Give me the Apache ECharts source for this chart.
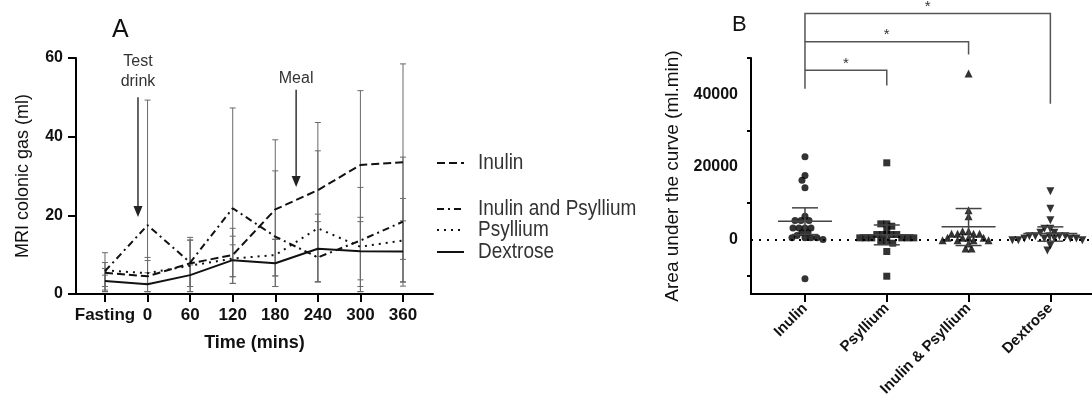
<!DOCTYPE html>
<html><head><meta charset="utf-8">
<script src="https://cdn.jsdelivr.net/npm/echarts@6/dist/echarts.min.js"></script>
<style>html,body{margin:0;padding:0;background:#fff}#c{width:1092px;height:410px}</style>
</head><body><div id="c"></div>
<script>
// ---------- Panel A data ----------
const timeLabels = ['Fasting','0','60','120','180','240','300','360'];
const seriesNames = ['Inulin','Inulin and Psyllium','Psyllium','Dextrose'];
const inulinMean = [5.4, 4.5, 7.8, 9.9, 21.5, 26.4, 32.8, 33.5];
const inulinLow  = [1.9, 0.6, 1.9, 4.4, 4.6, 9.5, 3.6, 8.8];
const inulinHigh = [6.5, 9.3, 13.7, 16.7, 39.2, 43.6, 51.7, 58.5];
const iapMean = [5.8, 17.5, 8.0, 21.8, 14.6, 9.3, 13.6, 18.4];
const iapLow  = [0.6, 0.6, 0.6, 2.7, 1.9, 3.1, 0.6, 2.0];
const iapHigh = [10.5, 49.3, 14.4, 47.3, 31.3, 36.4, 27.1, 34.8];
const psylMean = [6.0, 5.3, 7.2, 9.0, 9.9, 16.7, 12.0, 13.6];
const psylLow  = [1.0, 2.7, 1.9, 4.4, 4.6, 3.1, 1.9, 3.1];
const psylHigh = [8.0, 8.5, 13.7, 14.7, 13.9, 20.3, 19.5, 24.3];
const dexMean = [3.3, 2.5, 4.8, 8.6, 7.8, 11.5, 10.9, 10.8];
const dexLow  = [0.6, 0.6, 0.6, 2.7, 1.9, 3.1, 0.6, 3.0];
const dexHigh = [4.8, 5.4, 7.4, 12.5, 13.9, 18.4, 18.4, 18.6];
const yTicksA = [0, 20, 40, 60];
const annoLabels = ['Test\ndrink', 'Meal'];
const annoX = [0.775, 4.49];
const annoTop = [50, 51.9];
const annoTip = [19.6, 27.2];

// ---------- Panel B data ----------
const groupLabels = ['Inulin','Psyllium','Inulin & Psyllium','Dextrose'];
const aucInulin = [22780, 17630, 16340, 14240, 6430, 5230, 5230, 5230, 3210, 3210, 3210, 3210, 1840, 1840, 1100, 460, 460, 460, 460, 0, -10830];
const aucPsyllium = [21130, 4320, 4320, 3670, 2480, 1380, 1380, 1380, 1380, 460, 460, 460, 460, 460, 460, -460, -460, -1000, -3300, -10100];
const aucInulinPsyllium = [45730, 8080, 6430, 2290, 2290, 1560, 1560, 1560, 1560, 460, 460, 460, 460, -190, -190, -190, -190, -1100, -2480, -2480];
const aucDextrose = [13310, 8460, 5320, 2940, 2940, 1840, 1840, 920, 920, 920, 920, 920, 280, 280, 280, 280, 280, -190, -190, -190, -1650, -3030];
const aucMean = [5050, 1300, 3490, 1650];
const aucLow  = [1370, -1450, -1650, -460];
const aucHigh = [8730, 4000, 8540, 3490];
const sigFrom = [0, 0, 0];
const sigTo = [1, 2, 3];
const sigLeftBottom = [41500, 46650, 54470];
const sigTop = [46650, 54470, 62260];
const sigRightBottom = [42400, 50970, 37380];
const sigMarks = ['*', '*', '*'];
const yTicksBMajor = [0, 20000, 40000];
const yTicksBMinor = [-10000, 10000, 30000, 50000];

// ---------- styles ----------
const FONT = 'Arial, "Liberation Sans", Helvetica, sans-serif';
const lineTypes = [[8,4],[7,4,2,4],[2,5],'solid'];
const meansA = [inulinMean, iapMean, psylMean, dexMean];
const lowsA = [inulinLow, iapLow, psylLow, dexLow];
const highsA = [inulinHigh, iapHigh, psylHigh, dexHigh];
const aucGroups = [aucInulin, aucPsyllium, aucInulinPsyllium, aucDextrose];
const symbolsB = ['circle','rect','triangle','triangle'];
const rotB = [0, 0, 0, 180];
const sizeB = [7, 7, 8, 8];
const legendY = [163, 209, 230, 252];

const chart = echarts.init(document.getElementById('c'));

function errBarA(params, api) {
  const x = api.value(0), lo = api.value(1), hi = api.value(2);
  const t = api.coord([x, hi]), b = api.coord([x, lo]);
  const w = 3, st = {stroke:'#6a6a6a', lineWidth:1};
  return {type:'group', children:[
    {type:'line', shape:{x1:t[0],y1:t[1],x2:b[0],y2:b[1]}, style:st},
    {type:'line', shape:{x1:t[0]-w,y1:t[1],x2:t[0]+w,y2:t[1]}, style:st},
    {type:'line', shape:{x1:b[0]-w,y1:b[1],x2:b[0]+w,y2:b[1]}, style:st}
  ]};
}
function annoRender(params, api) {
  const i = params.dataIndex;
  const x = api.value(0), top = api.coord([x, api.value(1)]), tip = api.coord([x, api.value(2)]);
  const hh = 11, hw = 4.5, st = {stroke:'#333', lineWidth:1.5};
  return {type:'group', children:[
    {type:'line', shape:{x1:top[0],y1:top[1],x2:tip[0],y2:tip[1]-hh+1}, style:st},
    {type:'polygon', shape:{points:[[tip[0]-hw,tip[1]-hh],[tip[0]+hw,tip[1]-hh],[tip[0],tip[1]]]}, style:{fill:'#222'}},
    {type:'text', x: top[0], y: top[1] - (i === 0 ? 6 : 1), style:{text: annoLabels[i], align:'center', verticalAlign:'bottom', font:'16px '+FONT, fill:'#333', lineHeight:20}}
  ]};
}
function meanRenderB(params, api) {
  const x = api.value(0);
  const m = api.coord([x, api.value(1)]), lo = api.coord([x, api.value(2)]), hi = api.coord([x, api.value(3)]);
  const st = {stroke:'#444', lineWidth:1.5};
  const mw = 27, cw = 13;
  return {type:'group', children:[
    {type:'line', shape:{x1:m[0]-mw,y1:m[1],x2:m[0]+mw,y2:m[1]}, style:st},
    {type:'line', shape:{x1:hi[0],y1:hi[1],x2:lo[0],y2:lo[1]}, style:st},
    {type:'line', shape:{x1:hi[0]-cw,y1:hi[1],x2:hi[0]+cw,y2:hi[1]}, style:st},
    {type:'line', shape:{x1:lo[0]-cw,y1:lo[1],x2:lo[0]+cw,y2:lo[1]}, style:st}
  ]};
}
function bracketRender(params, api) {
  const i = params.dataIndex;
  const x1 = api.value(0), x2 = api.value(1);
  const lb = api.coord([x1, api.value(2)]), lt = api.coord([x1, api.value(3)]);
  const rt = api.coord([x2, api.value(3)]), rb = api.coord([x2, api.value(4)]);
  return {type:'group', children:[
    {type:'polyline', shape:{points:[lb, lt, rt, rb]}, style:{stroke:'#555', lineWidth:1.5, fill:null}},
    {type:'text', x:(lt[0]+rt[0])/2, y:lt[1]+1, style:{text:sigMarks[i], align:'center', verticalAlign:'bottom', font:'15px '+FONT, fill:'#333'}}
  ]};
}

const series = [];
seriesNames.forEach((name, i) => {
  series.push({id:'errA'+i, type:'custom', name: name+' SD', xAxisIndex:0, yAxisIndex:0, renderItem: errBarA, z:2,
    data: timeLabels.map((_, k) => [k, lowsA[i][k], highsA[i][k]]), silent:true});
});
seriesNames.forEach((name, i) => {
  series.push({id:'lineA'+i, type:'line', name, xAxisIndex:0, yAxisIndex:0, symbol:'none', z:3,
    lineStyle:{color:'#111', width:2, type: lineTypes[i]},
    data: meansA[i].map((v, k) => [k, v])});
});
series.push({id:'anno', type:'custom', name:'annotations', xAxisIndex:0, yAxisIndex:0, clip:false, renderItem: annoRender, z:4,
  data: annoLabels.map((_, i) => [annoX[i], annoTop[i], annoTip[i]])});
groupLabels.forEach((name, i) => {
  const s = {id:'dotB'+i, type:'scatter', name: 'AUC ' + name, xAxisIndex:1, yAxisIndex:1, symbol: symbolsB[i], symbolRotate: rotB[i],
    symbolSize: sizeB[i], itemStyle:{color:'#000'}, z:3, data: aucGroups[i].map(v => [i, v])};
  if (i === 0) s.markLine = {silent:true, symbol:'none', label:{show:false},
    lineStyle:{color:'#000', width:2, type:[2,6]}, data:[{yAxis:0}]};
  series.push(s);
});
series.push({id:'meanB', type:'custom', name:'mean', xAxisIndex:1, yAxisIndex:1, renderItem: meanRenderB, z:4,
  data: aucMean.map((m, i) => [i, m, aucLow[i], aucHigh[i]])});
series.push({id:'sigB', type:'custom', name:'significance', xAxisIndex:1, yAxisIndex:1, clip:false, renderItem: bracketRender, z:4,
  data: sigFrom.map((f, i) => [f, sigTo[i], sigLeftBottom[i], sigTop[i], sigRightBottom[i]])});

const legendGraphics = [];
seriesNames.forEach((name, i) => {
  legendGraphics.push({type:'line', shape:{x1:437, y1:legendY[i], x2:464, y2:legendY[i]},
    style:{stroke:'#111', lineWidth:2, lineDash: lineTypes[i] === 'solid' ? null : lineTypes[i]}});
  legendGraphics.push({type:'text', x:478, y:legendY[i], originX:0, originY:0, scaleY:1.15,
    style:{text:name, font:'19px '+FONT, fill:'#333', verticalAlign:'middle'}});
});

const axisLineStyle = {color:'#000', width:2};
const option = {
  animation:false,
  backgroundColor:'#fff',
  textStyle:{fontFamily: FONT},
  grid:[
    {left:76, top:58, width:357, height:236},
    {left:751, top:58, width:341, height:236}
  ],
  xAxis:[
    {gridIndex:0, type:'value', min:-0.681, max:7.705, splitLine:{show:false},
     axisLine:{onZero:false, lineStyle:axisLineStyle},
     axisTick:{customValues:[0,1,2,3,4,5,6,7], length:8, lineStyle:{width:2, color:'#000'}},
     axisLabel:{customValues:[0,1,2,3,4,5,6,7], formatter: v => timeLabels[Math.round(v)], fontSize:17, fontWeight:'bold', color:'#111', margin:13},
     name:'Time (mins)', nameLocation:'middle', nameGap:40, nameTextStyle:{fontSize:18, fontWeight:'bold', color:'#111'}},
    {gridIndex:1, type:'value', min:-0.66, max:3.509, splitLine:{show:false},
     axisLine:{onZero:false, lineStyle:axisLineStyle},
     axisTick:{customValues:[0,1,2,3], length:8, lineStyle:{width:2, color:'#000'}},
     axisLabel:{customValues:[0,1,2,3], formatter: v => groupLabels[Math.round(v)], rotate:45, fontSize:15, fontWeight:'bold', color:'#111', margin:12}}
  ],
  yAxis:[
    {gridIndex:0, type:'value', min:0, max:60, splitLine:{show:false},
     axisLine:{show:true, onZero:false, lineStyle:axisLineStyle},
     axisTick:{show:true, customValues:yTicksA, length:8, lineStyle:{width:2, color:'#000'}},
     axisLabel:{customValues:yTicksA, fontSize:16, fontWeight:'bold', color:'#111', margin:13},
     name:'MRI colonic gas (ml)', nameLocation:'middle', nameGap:44, nameTextStyle:{fontSize:18, color:'#111'}},
    {gridIndex:1, type:'value', min:-15000, max:50000, splitLine:{show:false},
     axisLine:{show:true, onZero:false, lineStyle:axisLineStyle},
     axisTick:{show:true, customValues:yTicksBMinor, length:4, lineStyle:{width:2, color:'#000'}},
     axisLabel:{customValues:yTicksBMajor, formatter: v => String(v), fontSize:16, fontWeight:'bold', color:'#111', margin:13},
     name:'Area under the curve (ml.min)', nameLocation:'middle', nameGap:69, nameTextStyle:{fontSize:19, color:'#111'}},
    {gridIndex:1, type:'value', min:-15000, max:50000, splitLine:{show:false},
     axisLine:{show:false, onZero:false}, axisLabel:{show:false},
     axisTick:{show:true, customValues:yTicksBMajor, length:10, lineStyle:{width:2, color:'#000'}}}
  ],
  graphic:[
    {type:'text', x:112, y:30, style:{text:'A', font:'25px '+FONT, fill:'#111', verticalAlign:'middle'}},
    {type:'text', x:732, y:25, style:{text:'B', font:'22px '+FONT, fill:'#111', verticalAlign:'middle'}}
  ].concat(legendGraphics),
  series
};
chart.setOption(option);

// beeswarm layout of the dot plot (symbols may overlap slightly), derived from the values via the axis scales
function swarm(values, cat) {
  const ppu = chart.convertToPixel({xAxisIndex:1}, 1) - chart.convertToPixel({xAxisIndex:1}, 0);
  const pts = values.map(v => ({v, py: chart.convertToPixel({yAxisIndex:1}, v)}));
  pts.sort((a, b) => a.py - b.py);
  const placed = [], d = 5.5, out = [];
  pts.forEach(p => {
    for (let k = 0; k < 200; k++) {
      const off = (k % 2 === 0 ? 1 : -1) * Math.ceil(k / 2);
      if (placed.every(q => Math.hypot(q.x - off, q.y - p.py) >= d)) {
        placed.push({x: off, y: p.py});
        out.push([cat + off / ppu, p.v]);
        break;
      }
    }
  });
  return out;
}
chart.setOption({series: groupLabels.map((name, i) => ({id:'dotB'+i, data: swarm(aucGroups[i], i)}))});
</script></body></html>
